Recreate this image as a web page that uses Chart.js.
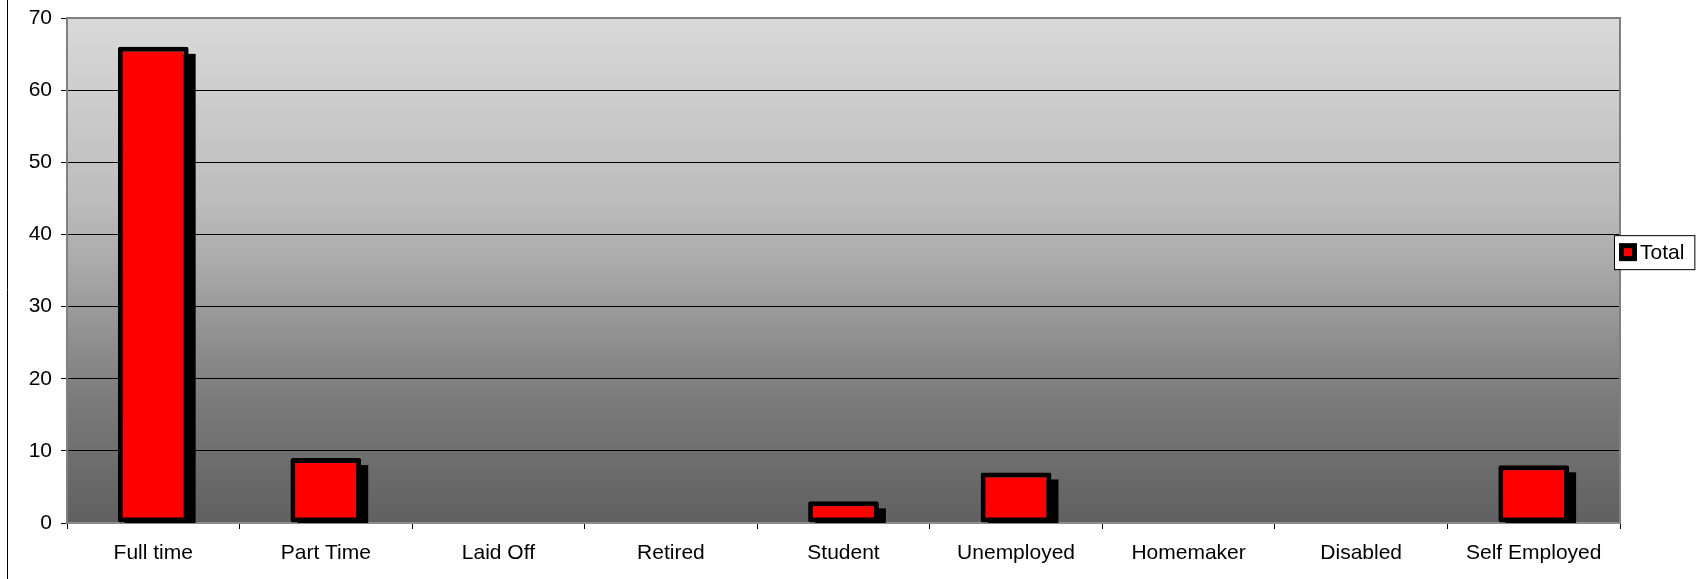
<!DOCTYPE html>
<html>
<head>
<meta charset="utf-8">
<script src="https://cdn.jsdelivr.net/npm/chart.js@4.4.0/dist/chart.umd.min.js"></script>
<style>
  html, body { margin: 0; padding: 0; background: #fff; }
  #wrap { width: 1705px; height: 579px; position: relative; }
</style>
</head>
<body>
<div id="wrap"><canvas id="c" width="1705" height="579"></canvas></div>
<script>
const categories = ["Full time", "Part Time", "Laid Off", "Retired", "Student", "Unemployed", "Homemaker", "Disabled", "Self Employed"];
const seriesName = "Total";
const totals = [66, 9, 0, 0, 3, 7, 0, 0, 8];
const yTicks = [0, 10, 20, 30, 40, 50, 60, 70];

const FONT = "'Liberation Sans', Arial, sans-serif";
const SHADOW = 7;

const bgPlugin = {
  id: 'bgPlugin',
  beforeDraw(chart) {
    const { ctx, chartArea: a } = chart;
    ctx.save();
    ctx.fillStyle = '#fff';
    ctx.fillRect(0, 0, chart.width, chart.height);
    const g = ctx.createLinearGradient(0, a.top, 0, a.bottom);
    g.addColorStop(0, '#d9d9d9');
    g.addColorStop(0.36, '#bdbdbd');
    g.addColorStop(0.48, '#ababab');
    g.addColorStop(0.76, '#7a7a7a');
    g.addColorStop(1, '#606060');
    ctx.fillStyle = g;
    ctx.fillRect(a.left, a.top, a.right - a.left, a.bottom - a.top);
    ctx.strokeStyle = '#000';
    ctx.lineWidth = 1;
    ctx.beginPath();
    ctx.moveTo(7.5, 0);
    ctx.lineTo(7.5, chart.height);
    ctx.stroke();
    ctx.restore();
  },
  beforeDatasetsDraw(chart) {
    const { ctx, chartArea: a } = chart;
    const meta = chart.getDatasetMeta(0);
    ctx.save();
    ctx.beginPath();
    ctx.rect(a.left, a.top, a.right - a.left, a.bottom - a.top);
    ctx.clip();
    ctx.fillStyle = '#000';
    meta.data.forEach((bar, i) => {
      if (!totals[i]) return;
      const p = bar.getProps(['x', 'y', 'base', 'width'], true);
      const left = p.x - p.width / 2 + SHADOW;
      const top = Math.min(p.y, p.base) + SHADOW;
      ctx.fillRect(left, top, p.width, Math.max(p.y, p.base) - top + SHADOW);
    });
    ctx.restore();
  },
  afterDatasetsDraw(chart) {
    const { ctx, chartArea: a } = chart;
    ctx.save();
    ctx.strokeStyle = '#808080';
    ctx.lineWidth = 2;
    ctx.beginPath();
    ctx.moveTo(a.left, a.top);
    ctx.lineTo(a.right, a.top);
    ctx.lineTo(a.right, a.bottom);
    ctx.stroke();
    ctx.restore();
  },
  afterDraw(chart) {
    const { ctx, chartArea: a } = chart;
    const ds = chart.data.datasets[0];
    ctx.save();
    ctx.font = '21px ' + FONT;
    const tw = ctx.measureText(ds.label).width;
    const bx = a.right - 6;
    const by = a.top + (a.bottom - a.top) * 0.43;
    const bw = 26 + tw + 10;
    const bh = 34;
    ctx.fillStyle = '#fff';
    ctx.fillRect(bx, by, bw, bh);
    ctx.strokeStyle = '#000';
    ctx.lineWidth = 1;
    ctx.strokeRect(bx + 0.5, by + 0.5, bw, bh);
    ctx.fillStyle = '#000';
    ctx.fillRect(bx + 5, by + 8, 18, 18);
    ctx.fillStyle = ds.backgroundColor;
    ctx.fillRect(bx + 10, by + 13, 8, 8);
    ctx.fillStyle = '#000';
    ctx.textBaseline = 'middle';
    ctx.textAlign = 'left';
    ctx.fillText(ds.label, bx + 26, by + bh / 2 + 1);
    ctx.restore();
  }
};

new Chart(document.getElementById('c'), {
  type: 'bar',
  data: {
    labels: categories,
    datasets: [{
      label: seriesName,
      data: totals,
      backgroundColor: '#ff0000',
      borderColor: '#000000',
      borderWidth: 5,
      borderSkipped: false,
      borderRadius: 2,
      categoryPercentage: 1,
      barPercentage: 0.41,
      clip: 0
    }]
  },
  options: {
    responsive: false,
    animation: false,
    devicePixelRatio: 1,
    layout: { padding: { left: 0, right: 85, top: 18, bottom: 0 } },
    plugins: {
      legend: { display: false },
      tooltip: { enabled: false },
      title: { display: false }
    },
    scales: {
      x: {
        offset: true,
        grid: {
          offset: true,
          drawOnChartArea: false,
          drawTicks: true,
          tickLength: 6,
          tickColor: '#000',
          color: '#000'
        },
        border: { display: true, color: '#8c8c8c', width: 2 },
        ticks: {
          color: '#000',
          font: { family: FONT, size: 21 },
          padding: 12,
          maxRotation: 0,
          autoSkip: false
        },
        afterFit(scale) { scale.height = 56; scale.paddingLeft = 0; scale.paddingRight = 0; }
      },
      y: {
        min: 0,
        max: 70,
        afterBuildTicks(scale) { scale.ticks = yTicks.map(v => ({ value: v })); },
        grid: {
          color: ctx => (ctx.tick && (ctx.tick.value === 70 || ctx.tick.value === 0)) ? 'rgba(0,0,0,0)' : '#000',
          lineWidth: 1,
          drawTicks: true,
          tickLength: 6,
          tickColor: '#000'
        },
        border: { display: true, color: '#808080', width: 2 },
        ticks: {
          color: '#000',
          font: { family: FONT, size: 21 },
          padding: 9
        },
        afterFit(scale) { scale.width = 67; scale.paddingTop = 0; scale.paddingBottom = 0; }
      }
    }
  },
  plugins: [bgPlugin]
});
</script>
</body>
</html>
